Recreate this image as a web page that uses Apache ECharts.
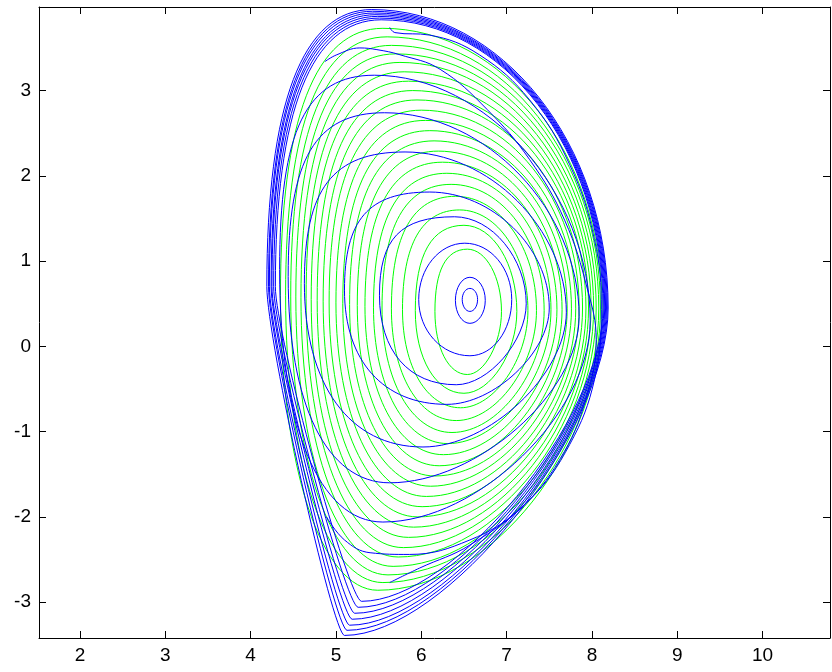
<!DOCTYPE html>
<html><head><meta charset="utf-8">
<script src="https://cdn.jsdelivr.net/npm/echarts@6/dist/echarts.min.js"></script>
<style>html,body{margin:0;padding:0;background:#fff}#c{width:832px;height:672px}</style>
</head><body><div id="c"></div>
<script>
const xTicks = [2, 3, 4, 5, 6, 7, 8, 9, 10];
const yTicks = [-3, -2, -1, 0, 1, 2, 3];

// Green flux surfaces: extremal points (left, top, right, bottom) of each closed contour
const gRl = [6.16,5.93,5.78,5.65,5.54,5.44,5.34,5.25,5.16,5.08,5.00,4.92,4.85,4.78,4.71,4.65,4.59,4.53,4.47,4.41,4.35];
const gZl = [0.41,0.42,0.43,0.44,0.45,0.46,0.47,0.48,0.49,0.50,0.51,0.52,0.53,0.54,0.55,0.56,0.57,0.58,0.59,0.60,0.60];
const gRt = [6.54,6.50,6.45,6.40,6.35,6.30,6.25,6.20,6.15,6.10,6.05,6.00,5.95,5.90,5.85,5.80,5.75,5.70,5.65,5.60,5.55];
const gZt = [1.14,1.42,1.60,1.76,1.90,2.03,2.16,2.29,2.41,2.53,2.65,2.77,2.89,3.00,3.11,3.22,3.33,3.43,3.53,3.63,3.73];
const gRr = [6.94,7.12,7.25,7.35,7.44,7.52,7.59,7.65,7.71,7.76,7.81,7.85,7.89,7.93,7.96,7.99,8.02,8.05,8.08,8.10,8.12];
const gZr = [0.41,0.41,0.42,0.42,0.42,0.43,0.43,0.43,0.44,0.44,0.44,0.45,0.45,0.45,0.45,0.45,0.45,0.45,0.45,0.45,0.45];
const gRb = [6.54,6.50,6.46,6.41,6.36,6.31,6.26,6.21,6.16,6.11,6.06,6.01,5.96,5.91,5.85,5.79,5.73,5.67,5.61,5.55,5.49];
const gZb = [-0.33,-0.55,-0.72,-0.87,-1.01,-1.14,-1.27,-1.40,-1.52,-1.64,-1.76,-1.88,-2.00,-2.12,-2.24,-2.36,-2.47,-2.58,-2.68,-2.77,-2.86];

// Blue rings around the axis
const rRl = [6.48,6.40,5.97];
const rZl = [0.55,0.54,0.55];
const rRt = [6.57,6.57,6.51];
const rZt = [0.68,0.81,1.21];
const rRr = [6.66,6.75,7.06];
const rZr = [0.55,0.54,0.55];
const rRb = [6.57,6.57,6.57];
const rZb = [0.41,0.27,-0.11];

// Blue closed contours (outer tilted family)
const bRl = [5.51,5.10,4.63,4.44,4.34];
const bZl = [0.60,0.66,0.74,0.82,0.90];
const bRt = [6.39,6.10,5.81,5.57,5.45];
const bZt = [1.52,1.81,2.28,2.74,3.18];
const bRr = [7.23,7.50,7.70,7.85,7.98];
const bZr = [0.50,0.45,0.40,0.35,0.30];
const bRb = [6.41,6.30,6.02,5.63,5.55];
const bZb = [-0.45,-0.68,-1.18,-1.60,-2.06];

// Blue band near the separatrix (with X-point at the bottom)
const sRl = [4.19,4.21,4.22,4.24,4.25,4.27,4.29];
const sZl = [0.70,0.70,0.70,0.70,0.70,0.70,0.70];
const sRt = [5.42,5.43,5.45,5.47,5.49,5.51,5.53];
const sZt = [3.95,3.93,3.91,3.89,3.87,3.85,3.83];
const sRr = [8.19,8.18,8.17,8.16,8.15,8.14,8.13];
const sZr = [0.45,0.45,0.45,0.45,0.45,0.45,0.45];
const sRb = [5.10,5.13,5.16,5.19,5.22,5.26,5.30];
const sZb = [-3.39,-3.33,-3.27,-3.20,-3.13,-3.06,-2.99];

// Open blue contours (clipped by the boundary)
const open1R = [4.87,5.01,5.28,5.48,5.75,6.22,6.77,7.27,7.68,7.95,8.05,7.93,7.62,7.15,6.57,5.86,5.40,5.10,4.89];
const open1Z = [3.34,3.42,3.50,3.48,3.42,3.25,2.78,2.19,1.48,0.66,0.08,-0.62,-1.33,-1.91,-2.27,-2.44,-2.42,-2.27,-2.00];
const open2R = [5.63,5.69,6.10,6.68,7.27,7.74,8.03,8.11,8.03,7.74,7.27,6.57,5.98,5.63];
const open2Z = [3.74,3.68,3.65,3.42,2.89,2.13,1.25,0.43,-0.39,-1.15,-1.80,-2.33,-2.60,-2.77];

function pack(a,b,c,d,e,f,g,h){ return a.map((v,i)=>[a[i],b[i],c[i],d[i],e[i],f[i],g[i],h[i]]); }
function pairs(R,Z){ return R.map((v,i)=>[R[i],Z[i]]); }

function makeRender(k, color){
  return function(params, api){
    const L=[api.value(0),api.value(1)], T=[api.value(2),api.value(3)],
          R=[api.value(4),api.value(5)], B=[api.value(6),api.value(7)];
    const segs = [
      [L,[L[0],L[1]+k[0]*(T[1]-L[1])],[T[0]-k[0]*(T[0]-L[0]),T[1]],T],
      [T,[T[0]+k[1]*(R[0]-T[0]),T[1]],[R[0],R[1]+k[1]*(T[1]-R[1])],R],
      [R,[R[0],R[1]-k[2]*(R[1]-B[1])],[B[0]+k[2]*(R[0]-B[0]),B[1]],B],
      [B,[B[0]-k[3]*(B[0]-L[0]),B[1]],[L[0],L[1]-k[3]*(L[1]-B[1])],L]
    ];
    const children = segs.map(s=>{
      const a=api.coord(s[0]), b=api.coord(s[1]), d=api.coord(s[2]), e=api.coord(s[3]);
      return {type:'bezierCurve', shape:{x1:a[0],y1:a[1],cpx1:b[0],cpy1:b[1],cpx2:d[0],cpy2:d[1],x2:e[0],y2:e[1]},
              style:{stroke:color, fill:'none', lineWidth:1}};
    });
    return {type:'group', children};
  };
}

const font = {color:'#000', fontSize:19, fontFamily:'Liberation Sans, Arial, sans-serif'};
function xa(pos, show){
  return {type:'value', min:1.52, max:10.79, position:pos,
    axisLine:{onZero:false, lineStyle:{color:'#000', width:1}},
    axisTick:{show:true, inside:true, length:7, customValues:xTicks, lineStyle:{color:'#000'}},
    axisLabel:Object.assign({show:show, customValues:xTicks, margin:8}, font),
    splitLine:{show:false}};
}
function ya(pos, show){
  return {type:'value', min:-3.42, max:3.98, position:pos,
    axisLine:{onZero:false, lineStyle:{color:'#000', width:1}},
    axisTick:{show:true, inside:true, length:7, customValues:yTicks, lineStyle:{color:'#000'}},
    axisLabel:Object.assign({show:show, customValues:yTicks, margin:8}, font),
    splitLine:{show:false}};
}
function contourSeries(name, data, k, color){
  return {type:'custom', name, renderItem:makeRender(k, color), data,
          encode:{x:[0,2,4,6], y:[1,3,5,7]}, clip:true, silent:true};
}

const chart = echarts.init(document.getElementById('c'), null, {renderer:'canvas'});
chart.setOption({
  animation:false,
  backgroundColor:'#fff',
  grid:{left:39, top:7, width:791, height:631, containLabel:false},
  xAxis:[xa('bottom', true), xa('top', false)],
  yAxis:[ya('left', true), ya('right', false)],
  series:[
    contourSeries('green', pack(gRl,gZl,gRt,gZt,gRr,gZr,gRb,gZb), [0.66,0.55,0.5,0.58], '#00ff00'),
    contourSeries('rings', pack(rRl,rZl,rRt,rZt,rRr,rZr,rRb,rZb), [0.552,0.552,0.552,0.552], '#0000ff'),
    contourSeries('blueOuter', pack(bRl,bZl,bRt,bZt,bRr,bZr,bRb,bZb), [0.72,0.52,0.46,0.62], '#0000ff'),
    contourSeries('band', pack(sRl,sZl,sRt,sZt,sRr,sZr,sRb,sZb), [0.66,0.55,0.38,0.15], '#0000ff'),
    {type:'line', data:pairs(open1R,open1Z), smooth:0.4, showSymbol:false, lineStyle:{color:'#0000ff', width:1}, silent:true},
    {type:'line', data:pairs(open2R,open2Z), smooth:0.4, showSymbol:false, lineStyle:{color:'#0000ff', width:1}, silent:true}
  ]
});
</script>
</body></html>
